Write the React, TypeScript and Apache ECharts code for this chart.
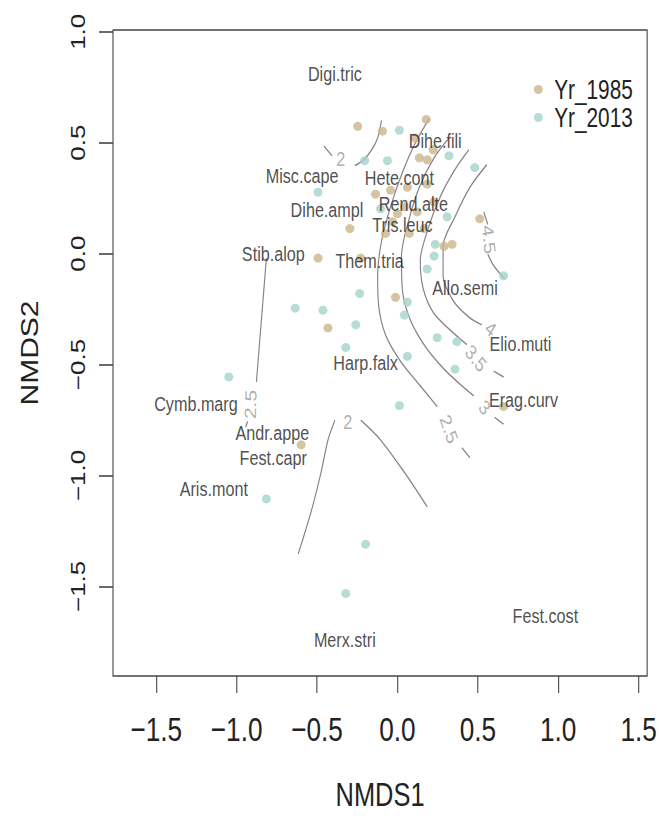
import React, { useEffect, useRef } from "react";
import * as echarts from "echarts";

const FONT = "'Liberation Sans', Arial, Helvetica, sans-serif";

// The reference uses a narrow typeface; the chart is drawn wider and squeezed horizontally.
const SQUEEZE = 0.77;
const W = 659;
const H = 816;
const WIDE = W / SQUEEZE;
const px = (v: number) => v / SQUEEZE; // horizontal pixel (final) -> chart pixel

const X_TICKS = [-1.5, -1.0, -0.5, 0.0, 0.5, 1.0, 1.5];
const Y_TICKS = [-1.5, -1.0, -0.5, 0.0, 0.5, 1.0];

const yr1985: number[][] = [
  [-0.247, 0.574], [-0.093, 0.552], [0.179, 0.605], [0.111, 0.521], [0.222, 0.468],
  [0.136, 0.432], [0.185, 0.423], [-0.136, 0.268], [-0.043, 0.286], [0.062, 0.299],
  [0.185, 0.313], [0.043, 0.211], [0.123, 0.188], [0.0, 0.18], [0.228, 0.233],
  [-0.296, 0.113], [-0.074, 0.091], [-0.031, 0.144], [0.074, 0.091], [0.167, 0.113],
  [0.29, 0.033], [0.34, 0.042], [0.512, 0.157], [-0.494, -0.02], [-0.228, -0.02],
  [-0.012, -0.197], [-0.432, -0.335], [0.66, -0.689], [-0.599, -0.862],
];

const yr2013: number[][] = [
  [0.012, 0.556], [0.321, 0.441], [0.481, 0.388], [-0.204, 0.419], [-0.062, 0.419],
  [-0.494, 0.277], [-0.105, 0.202], [0.309, 0.166], [0.235, 0.042], [0.228, -0.011],
  [0.185, -0.069], [0.66, -0.1], [-0.235, -0.18], [0.062, -0.219], [0.043, -0.277],
  [-0.636, -0.246], [-0.463, -0.255], [-0.259, -0.321], [0.247, -0.379], [0.37, -0.397],
  [-0.321, -0.423], [0.062, -0.463], [0.358, -0.521], [0.012, -0.685], [-1.049, -0.556],
  [-0.815, -1.106], [-0.198, -1.31], [-0.321, -1.532],
];

const speciesNames = [
  "Digi.tric", "Dihe.fili", "Misc.cape", "Hete.cont", "Dihe.ampl", "Rend.alte", "Tris.leuc",
  "Stib.alop", "Them.tria", "Allo.semi", "Elio.muti", "Harp.falx", "Cymb.marg", "Erag.curv",
  "Andr.appe", "Fest.capr", "Aris.mont", "Fest.cost", "Merx.stri",
];
const speciesX = [
  -0.389, 0.235, -0.593, 0.012, -0.438, 0.099, 0.031, -0.772, -0.173, 0.42, 0.765, -0.198,
  -1.253, 0.784, -0.778, -0.772, -1.142, 0.92, -0.327,
];
const speciesY = [
  0.813, 0.507, 0.352, 0.344, 0.197, 0.226, 0.13, -0.002, -0.033, -0.153, -0.406, -0.49,
  -0.676, -0.658, -0.809, -0.92, -1.062, -1.633, -1.741,
];

// ordisurf contour segments (NMDS1, NMDS2)
const contourSegments: number[][][] = [
  [[-0.457, 0.485], [-0.407, 0.441]],
  [[-0.265, 0.397], [-0.21, 0.423], [-0.16, 0.468], [-0.123, 0.521], [-0.099, 0.601]],
  [[0.198, 0.609], [0.111, 0.499], [0.031, 0.366], [-0.043, 0.211], [-0.099, 0.055], [-0.123, -0.1],
   [-0.117, -0.233], [-0.074, -0.366], [0.019, -0.485], [0.142, -0.596], [0.247, -0.689]],
  [[0.401, -0.875], [0.451, -0.92]],
  [[0.321, 0.521], [0.228, 0.432], [0.136, 0.299], [0.068, 0.144], [0.025, -0.011], [0.031, -0.166],
   [0.08, -0.299], [0.173, -0.419], [0.29, -0.521], [0.401, -0.596], [0.475, -0.641]],
  [[0.605, -0.738], [0.66, -0.769]],
  [[0.444, 0.468], [0.358, 0.379], [0.265, 0.255], [0.185, 0.1], [0.142, -0.033], [0.16, -0.157],
   [0.222, -0.264], [0.327, -0.344], [0.432, -0.41]],
  [[0.599, -0.53], [0.66, -0.556]],
  [[0.556, 0.401], [0.451, 0.299], [0.358, 0.166], [0.284, 0.033], [0.284, -0.1], [0.346, -0.211],
   [0.444, -0.286], [0.525, -0.321]],
  [[0.537, 0.188], [0.562, 0.131]],
  [[0.562, -0.002], [0.599, -0.055], [0.667, -0.113]],
  [[-0.815, -0.02], [-0.846, -0.299], [-0.877, -0.578]],
  [[-0.932, -0.756], [-0.944, -0.782]],
  [[-0.389, -0.751], [-0.432, -0.84], [-0.475, -0.986], [-0.537, -1.164], [-0.617, -1.354]],
  [[-0.228, -0.751], [-0.105, -0.84], [0.043, -0.986], [0.185, -1.141]],
];

const contourLevels = ["2", "2.5", "3", "3.5", "4", "4.5", "2.5", "2"];
const contourLabelX = [-0.352, 0.321, 0.543, 0.488, 0.58, 0.568, -0.914, -0.309];
const contourLabelY = [0.428, -0.791, -0.694, -0.472, -0.339, 0.064, -0.68, -0.756];
const contourLabelRot = [0, -66, -45, -45, -38, -82, 88, 0];

const fmt = (v: number) => (v < 0 ? "\u2212" : "") + Math.abs(v).toFixed(1);

// ellipse icon that becomes a circle after the horizontal squeeze
const LEGEND_ICON = "path://M0,5a6.5,5 0 1,0 13,0a6.5,5 0 1,0 -13,0z";

export default function App() {
  const ref = useRef<HTMLDivElement>(null);
  useEffect(() => {
    if (!ref.current) return;
    const chart = echarts.init(ref.current, undefined, { renderer: "svg" });
    const contourSeries = contourSegments.map((seg) => ({
      type: "line",
      data: seg,
      smooth: 0.3,
      symbol: "none",
      silent: true,
      z: 2,
      lineStyle: { color: "#8a8087", width: 1.5 },
    }));
    chart.setOption({
      animation: false,
      backgroundColor: "#ffffff",
      grid: {
        left: px(113),
        right: WIDE - px(652),
        top: 30,
        bottom: H - 687,
        show: true,
        borderColor: "#444",
        borderWidth: 1.4,
        backgroundColor: "transparent",
      },
      legend: {
        data: [
          { name: "Yr_1985", icon: LEGEND_ICON },
          { name: "Yr_2013", icon: LEGEND_ICON },
        ],
        orient: "vertical",
        left: px(530),
        top: 71,
        itemWidth: px(24),
        itemHeight: 9,
        itemGap: 1,
        textStyle: { fontSize: 27, fontFamily: FONT, color: "#222", lineHeight: 22 },
      },
      xAxis: {
        type: "value",
        min: -1.769,
        max: 1.553,
        name: "NMDS1",
        nameLocation: "middle",
        nameGap: 102,
        nameTextStyle: { fontSize: 33, fontFamily: FONT, color: "#222" },
        axisLine: { show: false, onZero: false },
        splitLine: { show: false },
        axisTick: {
          show: true,
          length: 17,
          customValues: X_TICKS,
          lineStyle: { color: "#444", width: 1.4 },
        },
        axisLabel: {
          customValues: X_TICKS,
          formatter: fmt,
          fontSize: 34,
          fontFamily: FONT,
          color: "#222",
          margin: 36,
        },
      },
      yAxis: {
        type: "value",
        min: -1.904,
        max: 1.008,
        name: "NMDS2",
        nameLocation: "middle",
        nameRotate: 90,
        nameGap: px(83) - 15,
        nameTextStyle: { fontSize: 30, fontFamily: FONT, color: "#222" },
        axisLine: { show: false, onZero: false },
        splitLine: { show: false },
        axisTick: {
          show: true,
          length: px(14),
          customValues: Y_TICKS,
          lineStyle: { color: "#444", width: 1.6 },
        },
        axisLabel: {
          customValues: Y_TICKS,
          formatter: fmt,
          rotate: 90,
          fontSize: 26,
          fontFamily: FONT,
          color: "#222",
          margin: px(35) - 13,
        },
      },
      series: [
        ...contourSeries,
        {
          type: "scatter",
          name: "contour levels",
          symbol: "circle",
          symbolSize: 1,
          silent: true,
          z: 3,
          itemStyle: { color: "rgba(0,0,0,0)" },
          data: contourLevels.map((lv, i) => ({
            name: lv,
            value: [contourLabelX[i], contourLabelY[i]],
            label: { rotate: contourLabelRot[i] },
          })),
          label: {
            show: true,
            position: "inside",
            formatter: "{b}",
            fontSize: 21,
            lineHeight: 16,
            fontFamily: FONT,
            color: "#9a9a9a",
          },
        },
        {
          type: "scatter",
          name: "Yr_1985",
          symbol: "circle",
          symbolSize: [px(9), 9],
          z: 4,
          itemStyle: { color: "#cbb589" },
          data: yr1985,
        },
        {
          type: "scatter",
          name: "Yr_2013",
          symbol: "circle",
          symbolSize: [px(9), 9],
          z: 4,
          itemStyle: { color: "#a4d3cc" },
          data: yr2013,
        },
        {
          type: "scatter",
          name: "species",
          symbol: "circle",
          symbolSize: 1,
          silent: true,
          z: 5,
          itemStyle: { color: "rgba(0,0,0,0)" },
          data: speciesNames.map((n, i) => ({ name: n, value: [speciesX[i], speciesY[i]] })),
          label: {
            show: true,
            position: "inside",
            formatter: "{b}",
            fontSize: 21,
            lineHeight: 16,
            fontFamily: FONT,
            color: "#222",
          },
        },
      ],
    });
    return () => chart.dispose();
  }, []);
  return (
    <div
      style={{
        position: "absolute",
        left: 0,
        top: 0,
        width: W,
        height: H,
        overflow: "hidden",
        background: "#fff",
      }}
    >
      <div
        ref={ref}
        style={{
          width: WIDE,
          height: H,
          transform: `scaleX(${SQUEEZE})`,
          transformOrigin: "0 0",
        }}
      />
    </div>
  );
}
